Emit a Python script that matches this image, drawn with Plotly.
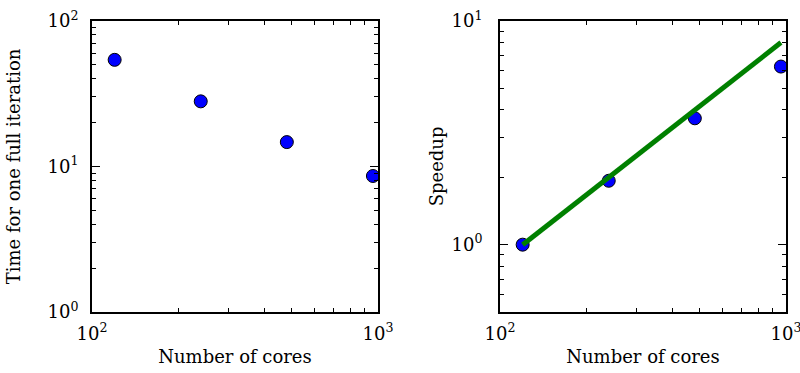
import plotly.graph_objects as go
from plotly.subplots import make_subplots

cores = [120, 240, 480, 960]
time_per_iter = [54.0, 28.0, 14.7, 8.6]
speedup = [1.0, 1.93, 3.67, 6.25]
ideal_x = [120, 960]
ideal_y = [1.0, 8.0]

fig = make_subplots(rows=1, cols=2)

marker = dict(color="#0000ff", size=13, line=dict(color="black", width=1))
fig.add_trace(go.Scatter(x=cores, y=time_per_iter, mode="markers", marker=marker,
                         showlegend=False), row=1, col=1)
fig.add_trace(go.Scatter(x=cores, y=speedup, mode="markers", marker=marker,
                         showlegend=False), row=1, col=2)
fig.add_trace(go.Scatter(x=ideal_x, y=ideal_y, mode="lines",
                         line=dict(color="#008000", width=5), showlegend=False),
              row=1, col=2)

FONT = "DejaVu Serif"
TFONT = dict(family=FONT, size=18, color="black")


def lbl(e):
    return "10<sup>%d</sup>" % e


axis_common = dict(
    type="log", showline=True, linewidth=2, linecolor="black", mirror="ticks",
    ticks="inside", ticklen=8, tickwidth=1.2, tickcolor="black",
    showgrid=False, zeroline=False, automargin=False, ticklabeloverflow="allow",
    tickfont=dict(family=FONT, size=18, color="black"),
)

minor_x = [200, 300, 400, 500, 600, 700, 800, 900]
fig.update_xaxes(**axis_common, range=[2, 3], tickvals=[100, 1000],
                 ticktext=[lbl(2), lbl(3)], ticklabelstandoff=4,
                 minor=dict(tickvals=minor_x, ticks="inside", ticklen=4,
                            tickcolor="black", tickwidth=1),
                 title=dict(text="Number of cores", font=TFONT, standoff=8))

fig.update_yaxes(**axis_common, row=1, col=1, range=[0, 2],
                 tickvals=[1, 10, 100], ticktext=[lbl(0), lbl(1), lbl(2)],
                 ticklabelstandoff=8,
                 minor=dict(tickvals=[2, 3, 4, 5, 6, 7, 8, 9, 20, 30, 40, 50, 60, 70, 80, 90],
                            ticks="inside", ticklen=4, tickcolor="black", tickwidth=1),
                 title=dict(text="Time for one full iteration", font=TFONT, standoff=22))
fig.update_yaxes(**axis_common, row=1, col=2, range=[-0.30103, 1],
                 tickvals=[1, 10], ticktext=[lbl(0), lbl(1)],
                 ticklabelstandoff=12,
                 minor=dict(tickvals=[0.5, 0.6, 0.7, 0.8, 0.9, 2, 3, 4, 5, 6, 7, 8, 9],
                            ticks="inside", ticklen=4, tickcolor="black", tickwidth=1),
                 title=dict(text="Speedup", font=TFONT, standoff=3))

fig.update_layout(
    width=800, height=373,
    margin=dict(l=0, r=0, t=0, b=0),
    paper_bgcolor="white", plot_bgcolor="white",
    xaxis=dict(domain=[0.115, 0.4725]),
    xaxis2=dict(domain=[0.625, 0.9825]),
    yaxis=dict(domain=[0.1635, 0.944]),
    yaxis2=dict(domain=[0.1635, 0.944]),
)

fig.write_html("out.html", config={"displayModeBar": False},
               post_script="document.body.style.margin='0';")
